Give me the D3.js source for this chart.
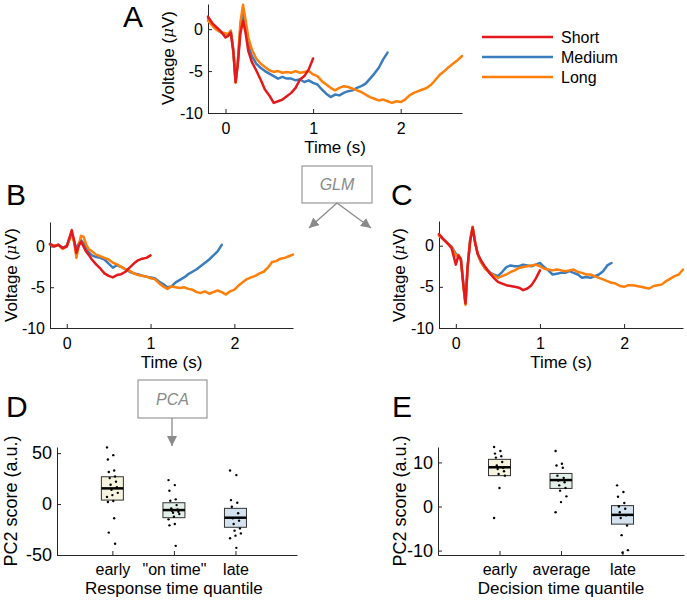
<!DOCTYPE html>
<html><head><meta charset="utf-8">
<script src="https://cdn.jsdelivr.net/npm/d3@7"></script>
<style>
body{margin:0;background:#fff}
text{font-family:"Liberation Sans",Arial,Helvetica,sans-serif;fill:#000}
</style>
</head><body>
<svg id="fig" width="687" height="600"></svg>
<script>
// ---------- DATA ----------
const timePoints = [-0.2,-0.15,-0.1,-0.05,0,0.03,0.06,0.09,0.115,0.14,0.17,0.2,0.23,0.26,0.3,
  0.35,0.4,0.45,0.5,0.55,0.6,0.65,0.7,0.75,0.8,0.85,0.9,0.95,1.0,1.05,1.1,1.15,1.2,1.25,1.3,
  1.35,1.4,1.45,1.5,1.55,1.6,1.65,1.7,1.75,1.8,1.85,1.9,1.95,2.0,2.05,2.1,2.15,2.2,2.25,2.3,
  2.35,2.4,2.45,2.5,2.55,2.6,2.65,2.7];
const conditions = ["Short","Medium","Long"];
const timeTicks = [0,1,2];
const voltageTicks = [0,-5,-10];

// Panel A (raw averages)
const shortA  = [1.5,0.7,0.2,-0.3,-1.0,-0.8,-0.4,-2.8,-6.3,-4.2,-0.5,1.0,-0.5,-2.6,-3.9,-4.9,-6.0,-7.2,-7.9,-8.8,-8.6,-8.4,-8.0,-7.6,-7.0,-6.0,-5.6,-4.8,-3.5];
const mediumA = [1.3,0.5,0.0,-0.4,-0.6,-0.6,-0.2,-2.5,-6.3,-4.0,0.2,1.9,0.0,-1.8,-3.2,-4.1,-4.6,-5.0,-5.3,-5.6,-5.9,-5.7,-5.9,-5.9,-6.1,-6.0,-6.3,-6.1,-6.4,-6.6,-7.2,-7.7,-8.1,-7.8,-7.9,-7.6,-7.4,-7.3,-7.0,-6.8,-6.5,-5.9,-5.3,-4.6,-3.6,-2.8];
const longA   = [1.0,0.4,-0.1,-0.4,-0.5,-0.6,-0.2,-2.6,-6.4,-4.0,0.8,2.9,1.0,-1.0,-2.4,-3.5,-4.1,-4.5,-4.9,-5.1,-5.0,-5.2,-5.1,-5.2,-5.0,-5.2,-5.1,-5.0,-5.4,-5.6,-6.2,-6.6,-7.0,-7.3,-7.0,-6.8,-6.9,-7.1,-7.3,-7.5,-7.8,-8.1,-8.3,-8.5,-8.4,-8.6,-8.8,-8.6,-8.7,-8.4,-7.9,-7.6,-7.4,-7.2,-7.0,-6.6,-6.0,-5.4,-5.0,-4.5,-4.1,-3.7,-3.2];

// Panel B (GLM component 1)
const shortB  = [0.3,0.0,0.2,-0.2,0.0,1.0,2.0,0.6,-0.8,0.0,0.6,0.0,-0.6,-1.0,-1.6,-2.2,-2.7,-3.3,-3.6,-3.8,-3.5,-3.4,-3.1,-2.6,-2.1,-1.7,-1.5,-1.4,-1.1];
const mediumB = [0.3,0.1,0.2,-0.2,0.1,0.9,1.5,0.6,-0.4,0.3,0.8,0.4,-0.2,-0.7,-1.1,-1.3,-1.4,-1.6,-2.1,-2.6,-2.3,-2.5,-2.8,-3.1,-3.3,-3.4,-3.6,-3.7,-3.8,-3.9,-4.3,-4.6,-5.0,-4.9,-4.4,-4.1,-3.8,-3.4,-3.1,-2.8,-2.4,-2.0,-1.6,-1.1,-0.6,0.2];
const longB   = [0.2,0.1,0.2,-0.3,0.0,0.8,1.6,0.4,-1.4,0.0,1.3,1.2,0.3,-0.3,-0.6,-1.0,-1.2,-1.4,-1.6,-2.0,-2.2,-2.5,-2.8,-3.0,-3.3,-3.5,-3.6,-3.7,-3.9,-4.0,-4.5,-4.9,-5.2,-4.9,-5.0,-5.1,-5.0,-5.2,-5.3,-5.6,-5.7,-5.5,-5.8,-5.6,-5.4,-5.6,-5.9,-5.5,-5.3,-4.8,-4.4,-4.0,-3.8,-3.6,-3.3,-3.1,-2.6,-1.9,-1.8,-1.5,-1.4,-1.2,-1.0];

// Panel C (GLM component 2)
const shortC  = [1.4,0.8,0.3,-0.3,-2.3,-1.2,-1.7,-4.8,-7.0,-2.5,0.5,2.2,0.3,-1.0,-1.8,-2.6,-3.3,-3.9,-4.4,-4.6,-4.8,-4.9,-5.0,-5.1,-5.4,-5.2,-4.8,-4.0,-3.0];
const mediumC = [1.3,0.8,0.3,-0.1,-1.0,-1.2,-1.6,-4.7,-7.0,-2.6,0.6,2.2,0.4,-1.0,-2.0,-2.8,-3.2,-3.5,-3.7,-3.2,-2.6,-2.4,-2.5,-2.5,-2.3,-2.4,-2.5,-2.3,-2.1,-2.6,-3.0,-3.5,-3.4,-3.3,-3.3,-3.1,-3.3,-3.5,-3.9,-3.8,-3.9,-3.7,-3.5,-3.1,-2.4,-2.1];
const longC   = [1.2,0.8,0.3,-0.2,-1.2,-1.1,-1.6,-4.9,-7.2,-2.7,0.7,2.3,0.4,-1.0,-2.0,-2.8,-3.3,-3.6,-3.9,-3.7,-3.5,-3.2,-3.0,-2.7,-2.6,-2.5,-2.4,-2.3,-2.5,-2.8,-2.9,-3.0,-2.9,-3.0,-3.1,-3.0,-2.9,-3.2,-3.3,-3.5,-3.5,-3.7,-3.9,-4.1,-4.3,-4.5,-4.6,-4.9,-5.0,-4.8,-4.8,-4.9,-5.0,-5.1,-5.2,-4.9,-4.8,-4.7,-4.3,-4.0,-3.7,-3.5,-2.9];

// Panel D (PC2 score by response time quantile)
const categoriesD = ["early", "\"on time\"", "late"];
const boxQ1D  = [3.9, -13.4, -22.8];
const boxMedD = [15.4, -5.9, -13.4];
const boxQ3D  = [26.8, 1.3, -4.2];
const dotsD = [
  [55.6,48,43.8,33,31.5,27,25.5,22,19,16.5,14,11,8.8,7,3,2,-14,-28,-39],
  [23.5,18.6,13,4.6,3.3,-1,-4.2,-5.2,-6.5,-7.5,-8.5,-9.8,-12.4,-15,-19.6,-20.9,-41],
  [33,28.4,3.9,1.3,-2.6,-9,-14,-16.3,-19.6,-23.9,-26.1,-28.8,-31,-33.6,-43]
];
const ticksD = [50,0,-50];

// Panel E (PC2 score by decision time quantile)
const categoriesE = ["early", "average", "late"];
const boxQ1E  = [7.0, 4.1, -4.0];
const boxMedE = [8.9, 6.0, -1.9];
const boxQ3E  = [10.7, 7.5, 0.2];
const dotsE = [
  [13.5,12.6,12,11.4,11.1,10.1,9.3,8.8,8.5,8,7.4,7,4.2,-2.6],
  [12.6,9.7,9.3,8.8,7,6.5,5.9,5.5,4.8,4.2,3.6,2.3,1,-1.3],
  [4.8,3.3,2.2,0.8,0,-0.5,-1.3,-2,-2.6,-4.3,-6.5,-9.9,-10.5]
];
const ticksE = [10,0,-10];

// ---------- STYLE ----------
const lineColors = {Short:"#e3191c", Medium:"#3a7dbf", Long:"#ff7f0a"};
const boxFills = ["#f6f4de", "#e2f0e9", "#d4e3ef"];
const axisColor = "#262626";

const svg = d3.select("#fig");

function styleAxis(g, fs){
  g.selectAll(".domain").attr("stroke", axisColor).attr("stroke-width", 1);
  g.selectAll(".tick line").attr("stroke", axisColor).attr("stroke-width", 1);
  g.selectAll(".tick text").style("font-size", (fs||16)+"px").attr("fill","#000");
}

function voltLabel(g, x, y){
  const t = g.append("text").attr("transform",`translate(${x},${y}) rotate(-90)`)
    .attr("text-anchor","middle").attr("dominant-baseline","central").style("font-size","17px");
  t.append("tspan").text("Voltage (");
  t.append("tspan").style("font-style","italic").style("font-family","DejaVu Serif, serif").style("font-size","15px").text("\u03bc");
  t.append("tspan").text("V)");
}

function linePanel(xr, yr, series){
  const x = d3.scaleLinear().domain([-0.2, 2.7]).range(xr);
  const y = d3.scaleLinear().domain([-10, 3]).range(yr);
  const g = svg.append("g");
  g.append("g").attr("transform",`translate(0,${yr[0]})`)
    .call(d3.axisBottom(x).tickValues(timeTicks).tickFormat(d3.format("d")).tickSizeInner(-4).tickSizeOuter(0).tickPadding(10))
    .call(styleAxis);
  g.append("g").attr("transform",`translate(${xr[0]},0)`)
    .call(d3.axisLeft(y).tickValues(voltageTicks).tickFormat(d3.format("d")).tickSizeInner(-4).tickSizeOuter(0).tickPadding(5))
    .call(styleAxis);
  g.selectAll(".tick text").text(function(){ return this.textContent.replace("\u2212","-"); });
  const line = d3.line().x((d,i)=>x(timePoints[i])).y(d=>y(d));
  [["Medium",series[1]],["Long",series[2]],["Short",series[0]]].forEach(([k,vals])=>{
    g.append("path").datum(vals).attr("d", line).attr("fill","none")
      .attr("stroke", lineColors[k]).attr("stroke-width", 2.5)
      .attr("stroke-linejoin","round").attr("stroke-linecap","round");
  });
  g.append("text").attr("x",(xr[0]+xr[1])/2).attr("y", yr[0]+34)
    .attr("text-anchor","middle").attr("dominant-baseline","central").style("font-size","17px").text("Time (s)");
  return g;
}

const gA = linePanel([208, 462], [113, 4], [shortA, mediumA, longA]);
voltLabel(gA, 168, 58);
const gB = linePanel([50, 293], [328, 222], [shortB, mediumB, longB]);
voltLabel(gB, 11, 275);
const gC = linePanel([439, 683], [328, 221], [shortC, mediumC, longC]);
voltLabel(gC, 399, 275);

// legend
conditions.forEach((c,i)=>{
  const yy = 37 + i*20;
  svg.append("line").attr("x1",482).attr("x2",553).attr("y1",yy).attr("y2",yy)
    .attr("stroke", lineColors[c]).attr("stroke-width",2.5);
  svg.append("text").attr("x",561).attr("y",yy).attr("dominant-baseline","central")
    .style("font-size","16px").text(c);
});

// box plots
function jitter(i){ return ((i*7)%13 - 6) * 0.9; }
function boxPanel(xr, yr, xdom, ydom, cats, q1, med, q3, dots, ticks, xlabel, ylx){
  const x = d3.scaleLinear().domain(xdom).range(xr);
  const y = d3.scaleLinear().domain(ydom).range(yr);
  const g = svg.append("g");
  g.append("g").attr("transform",`translate(0,${yr[0]})`)
    .call(d3.axisBottom(x).tickValues([1,2,3]).tickFormat((d,i)=>cats[i]).tickSizeInner(-4).tickSizeOuter(0).tickPadding(9))
    .call(g2=>styleAxis(g2,16));
  g.append("g").attr("transform",`translate(${xr[0]},0)`)
    .call(d3.axisLeft(y).tickValues(ticks).tickFormat(d3.format("d")).tickSizeInner(-4).tickSizeOuter(0).tickPadding(5))
    .call(g2=>styleAxis(g2,18));
  g.selectAll(".tick text").text(function(){ return this.textContent.replace("\u2212","-"); });
  const bw = 22;
  cats.forEach((c,i)=>{
    const cx = x(i+1);
    g.append("rect").attr("x",cx-bw/2).attr("width",bw)
      .attr("y",y(q3[i])).attr("height",y(q1[i])-y(q3[i]))
      .attr("fill",boxFills[i]).attr("stroke","#333").attr("stroke-width",1);
    g.append("line").attr("x1",cx-bw/2).attr("x2",cx+bw/2).attr("y1",y(med[i])).attr("y2",y(med[i]))
      .attr("stroke","#000").attr("stroke-width",2.5);
    g.selectAll(null).data(dots[i]).enter().append("circle")
      .attr("cx",(d,j)=>cx+jitter(j)).attr("cy",d=>y(d)).attr("r",1.2).attr("fill","#000");
  });
  g.append("text").attr("x",(x(1)+x(3))/2).attr("y",yr[0]+33).attr("text-anchor","middle")
    .attr("dominant-baseline","central").style("font-size","17px").text(xlabel);
  g.append("text").attr("transform",`translate(${ylx},${(yr[0]+yr[1])/2}) rotate(-90)`)
    .attr("text-anchor","middle").attr("dominant-baseline","central").style("font-size","18px").text("PC2 score (a.u.)");
}
boxPanel([57, 297], [555, 447], [0.1, 4.0], [-50, 56], categoriesD, boxQ1D, boxMedD, boxQ3D, dotsD, ticksD, "Response time quantile", 11);
boxPanel([438, 684], [555, 447], [0, 4], [-11, 13.5], categoriesE, boxQ1E, boxMedE, boxQ3E, dotsE, ticksE, "Decision time quantile", 400);

// panel letters
[["A",123,27],["B",6,205],["C",391,205],["D",6,417],["E",392,417]].forEach(([l,xx,yy])=>{
  svg.append("text").attr("x",xx).attr("y",yy).style("font-size","30px").text(l);
});

// GLM / PCA boxes with arrows
const defs = svg.append("defs");
defs.append("marker").attr("id","ah").attr("viewBox","0 0 10 10").attr("refX",10).attr("refY",5)
  .attr("markerWidth",10).attr("markerHeight",10).attr("markerUnits","userSpaceOnUse").attr("orient","auto")
  .append("path").attr("d","M0,0 L10,5 L0,10 Z").attr("fill","#8a8a8a");
function noteBox(x0,y0,w,h,label){
  svg.append("rect").attr("x",x0).attr("y",y0).attr("width",w).attr("height",h)
    .attr("fill","#fff").attr("stroke","#999").attr("stroke-width",1.2);
  svg.append("text").attr("x",x0+w/2).attr("y",y0+h/2).attr("text-anchor","middle")
    .attr("dominant-baseline","central").style("font-size","16px").style("font-style","italic")
    .style("fill","#8a8a8a").text(label);
}
function arrow(x1,y1,x2,y2){
  svg.append("line").attr("x1",x1).attr("y1",y1).attr("x2",x2).attr("y2",y2)
    .attr("stroke","#8a8a8a").attr("stroke-width",1.3).attr("marker-end","url(#ah)");
}
noteBox(302,166,70,37,"GLM");
arrow(337,203,309,228);
arrow(337,203,371,228);
noteBox(138,380,69,38,"PCA");
arrow(172,418,172,446);
</script>
</body></html>
